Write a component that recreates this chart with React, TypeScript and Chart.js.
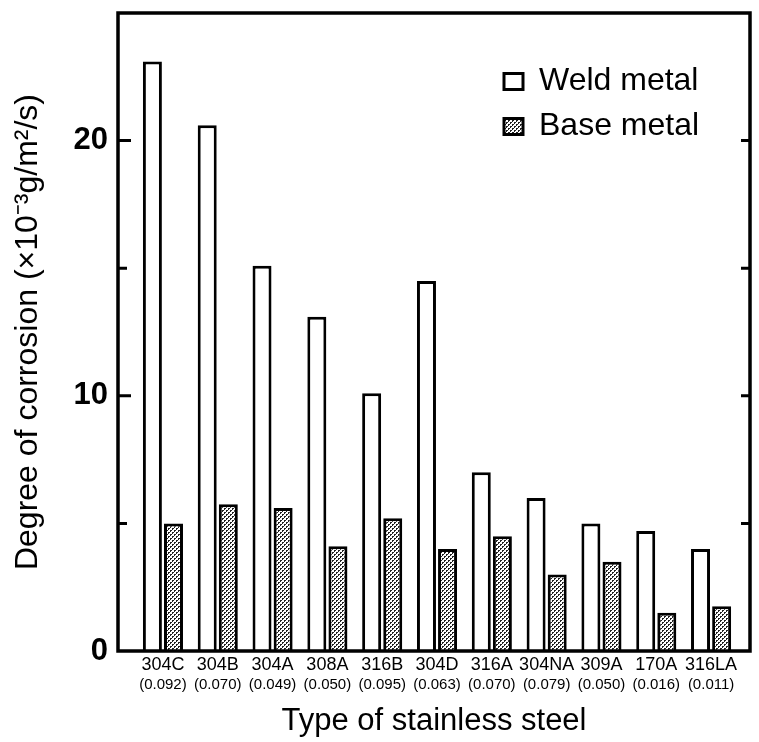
import React, { useEffect, useRef } from 'react';
import { Chart, registerables } from 'chart.js';

Chart.register(...registerables);

// ---- data ----
const categories = ['304C', '304B', '304A', '308A', '316B', '304D', '316A', '304NA', '309A', '170A', '316LA'];
const carbonContent = ['(0.092)', '(0.070)', '(0.049)', '(0.050)', '(0.095)', '(0.063)', '(0.070)', '(0.079)', '(0.050)', '(0.016)', '(0.011)'];
const weldMetal = [23.1, 20.6, 15.1, 13.1, 10.1, 14.5, 7.0, 6.0, 5.0, 4.7, 4.0];
const baseMetal = [5.0, 5.75, 5.6, 4.1, 5.2, 4.0, 4.5, 3.0, 3.5, 1.5, 1.75];
const yTickValues = [0, 5, 10, 15, 20, 25];
const yLabeledTicks = [0, 10, 20];

const FONT = "'Liberation Sans', Arial, Helvetica, sans-serif";

function makeStipple(): CanvasPattern | string {
  const c = document.createElement('canvas');
  c.width = 4;
  c.height = 4;
  const g = c.getContext('2d');
  if (!g) return '#aaa';
  g.fillStyle = '#ffffff';
  g.fillRect(0, 0, 4, 4);
  g.fillStyle = '#222222';
  g.fillRect(0, 0, 2, 1);
  g.fillRect(0, 1, 1, 1);
  g.fillRect(2, 2, 2, 1);
  g.fillRect(2, 3, 1, 1);
  return g.createPattern(c, 'repeat') ?? '#aaa';
}

const framePlugin = {
  id: 'frameAndInnerTicks',
  afterDraw(chart: any) {
    const { ctx, chartArea: ca, scales } = chart;
    const y = scales.y;
    ctx.save();
    ctx.strokeStyle = '#000';
    ctx.lineWidth = 3;
    yTickValues.forEach((v) => {
      if (v <= y.min || v >= y.max) return;
      const py = y.getPixelForValue(v);
      const major = yLabeledTicks.includes(v);
      ctx.beginPath();
      ctx.moveTo(ca.left, py);
      ctx.lineTo(ca.left + (major ? 13 : 9), py);
      ctx.moveTo(ca.right, py);
      ctx.lineTo(ca.right - 9, py);
      ctx.stroke();
    });
    ctx.lineWidth = 3.5;
    ctx.strokeRect(ca.left, ca.top, ca.right - ca.left, ca.bottom - ca.top);
    ctx.restore();
  },
};

const legendPlacer = {
  id: 'legendPlacer',
  afterLayout(chart: any) {
    const lg = chart.legend;
    if (!lg) return;
    const ca = chart.chartArea;
    lg.left = ca.left + 373;
    lg.top = ca.top + 39.5;
    lg.right = lg.left + lg.width;
    lg.bottom = lg.top + (ca.bottom - ca.top);
  },
};

const noEdgePadding = (s: any) => {
  s.paddingTop = 0;
  s.paddingBottom = 0;
  s.paddingLeft = 0;
  s.paddingRight = 0;
};

export default function App() {
  const ref = useRef<HTMLCanvasElement>(null);

  useEffect(() => {
    const canvas = ref.current;
    if (!canvas) return;
    Chart.defaults.font.family = FONT;
    Chart.defaults.color = '#000';
    const stipple = makeStipple();

    const xMin = -0.82;
    const xMax = 10.71;
    const integerTicks = (s: any) => {
      s.ticks = categories.map((_, i) => ({ value: i }));
    };

    const chart = new Chart(canvas, {
      type: 'bar',
      data: {
        datasets: [
          {
            label: 'Weld metal',
            data: weldMetal.map((v, i) => ({ x: i, y: v })),
            backgroundColor: '#ffffff',
            borderColor: '#000000',
            borderWidth: 3,
          },
          {
            label: 'Base metal',
            data: baseMetal.map((v, i) => ({ x: i, y: v })),
            backgroundColor: stipple as any,
            borderColor: '#000000',
            borderWidth: 3,
          },
        ],
      },
      options: {
        animation: false,
        responsive: false,
        devicePixelRatio: 1,
        layout: { padding: { top: 13, right: 9, left: 0, bottom: 0 } },
        datasets: { bar: { categoryPercentage: 0.77, barPercentage: 0.9 } } as any,
        plugins: {
          legend: {
            position: 'chartArea' as any,
            align: 'start',
            labels: {
              font: { size: 32 },
              color: '#000',
              boxWidth: 19,
              boxHeight: 16,
              padding: 13,
            },
          },
          tooltip: { enabled: false },
        },
        scales: {
          x: {
            type: 'linear',
            position: 'bottom',
            weight: 0,
            offset: false,
            bounds: 'data',
            min: xMin,
            max: xMax,
            grid: { display: false, drawTicks: false },
            border: { display: false },
            ticks: {
              autoSkip: false,
              maxRotation: 0,
              minRotation: 0,
              padding: 3,
              font: { size: 18 },
              color: '#000',
              callback: (v: any) => (Number.isInteger(v) ? categories[v] ?? '' : ''),
            },
            afterBuildTicks: integerTicks,
            afterFit: (s: any) => {
              s.height = 22;
              noEdgePadding(s);
            },
          } as any,
          x2: {
            type: 'linear',
            axis: 'x',
            position: 'bottom',
            weight: 1,
            offset: false,
            bounds: 'data',
            min: xMin,
            max: xMax,
            grid: { display: false, drawTicks: false },
            border: { display: false },
            ticks: {
              autoSkip: false,
              maxRotation: 0,
              minRotation: 0,
              padding: 3,
              font: { size: 15 },
              color: '#000',
              callback: (v: any) => (Number.isInteger(v) ? carbonContent[v] ?? '' : ''),
            },
            title: {
              display: true,
              text: 'Type of stainless steel',
              font: { size: 31 },
              color: '#000',
              padding: { top: 0, bottom: 2 },
            },
            afterBuildTicks: integerTicks,
            afterFit: (s: any) => {
              s.height = 69;
              noEdgePadding(s);
            },
          } as any,
          y: {
            min: 0,
            max: 25,
            grid: { display: false, drawTicks: false },
            border: { display: false },
            ticks: {
              autoSkip: false,
              stepSize: 5,
              padding: 10,
              font: { size: 31, weight: 'bold' },
              color: '#000',
              callback: (v: any) => (yLabeledTicks.includes(v) ? String(v) : null),
            },
            afterBuildTicks: (s: any) => {
              s.ticks = yTickValues.map((v) => ({ value: v }));
            },
            title: {
              display: true,
              text: 'Degree of corrosion (×10⁻³g/m²/s)',
              font: { size: 32 },
              color: '#000',
              padding: { top: 9, bottom: 0 },
            },
            afterFit: (s: any) => {
              s.width = 118;
              noEdgePadding(s);
            },
          } as any,
        },
      },
      plugins: [framePlugin, legendPlacer],
    } as any);

    return () => chart.destroy();
  }, []);

  return (
    <div style={{ position: 'absolute', left: 0, top: 0, width: 759, height: 742, background: '#fff' }}>
      <canvas ref={ref} width={759} height={742} style={{ display: 'block', width: 759, height: 742 }} />
    </div>
  );
}
